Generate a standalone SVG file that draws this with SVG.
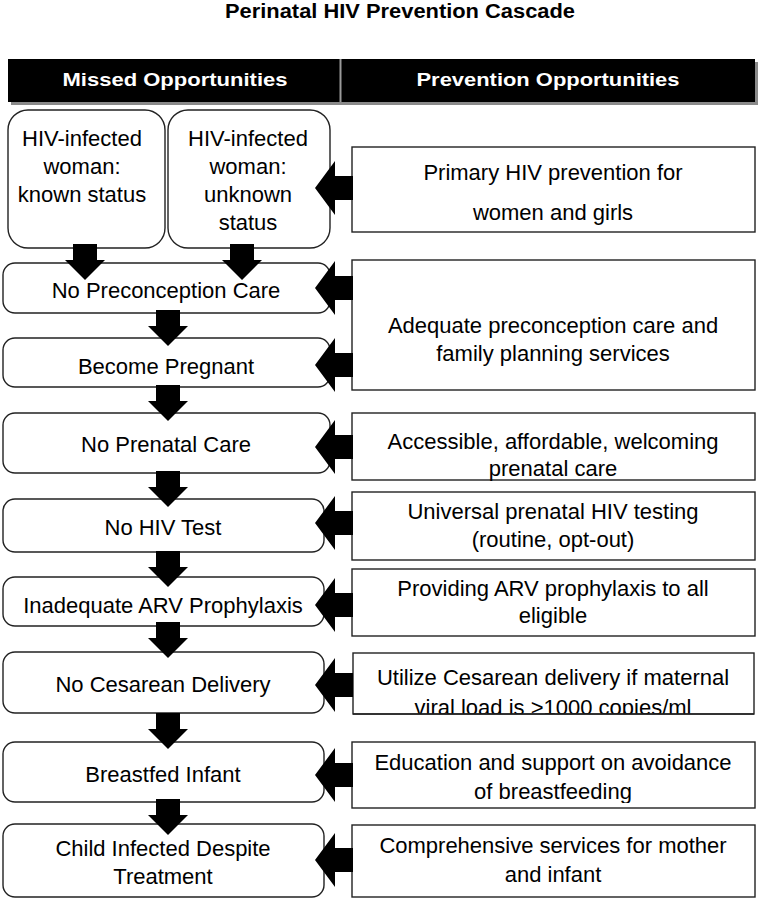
<svg xmlns="http://www.w3.org/2000/svg" xmlns:xlink="http://www.w3.org/1999/xlink" width="761" height="900" viewBox="0 0 761 900">
<style>
  .t{font-family:"Liberation Sans",Arial,sans-serif;font-size:22px;fill:#000;text-anchor:middle}
  .h{font-family:"Liberation Sans",Arial,sans-serif;font-weight:bold;font-size:19px;fill:#fff;text-anchor:middle}
  .ttl{font-family:"Liberation Sans",Arial,sans-serif;font-weight:bold;font-size:19.5px;fill:#000;text-anchor:middle}
  .box{fill:#fff;stroke:#222;stroke-width:1.4}
  .arr{fill:#000}
</style>
<defs>
  <polygon id="la" points="0,0 20,-27 20,-12 38,-12 38,12 20,12 20,27"/>
  <polygon id="da" points="-12,-36 12,-36 12,-20 20,-20 0,0 -20,-20 -12,-20"/>
  <clipPath id="c6"><rect x="352" y="653" width="403" height="61"/></clipPath>
  <clipPath id="c7"><rect x="352" y="742" width="403" height="61"/></clipPath>
</defs>
<rect width="761" height="900" fill="#fff"/>
<text class="ttl" x="400" y="18" textLength="350" lengthAdjust="spacingAndGlyphs">Perinatal HIV Prevention Cascade</text>

<g id="header">
  <rect x="11" y="62" width="747" height="43" fill="#8a8a8a"/>
  <rect x="8" y="59" width="747" height="43" fill="#000"/>
  <line x1="340.5" y1="59" x2="340.5" y2="102" stroke="#9a9a9a" stroke-width="2"/>
  <text class="h" x="175" y="86" textLength="225" lengthAdjust="spacingAndGlyphs">Missed Opportunities</text>
  <text class="h" x="548" y="86" textLength="263" lengthAdjust="spacingAndGlyphs">Prevention Opportunities</text>
</g>

<g id="known">
  <rect class="box" x="8" y="110" width="157" height="138" rx="20"/>
  <text class="t" x="82" y="146">HIV-infected</text>
  <text class="t" x="82" y="174">woman:</text>
  <text class="t" x="82" y="202">known status</text>
</g>
<g id="unknown">
  <rect class="box" x="168" y="110" width="162" height="138" rx="20"/>
  <text class="t" x="248" y="146">HIV-infected</text>
  <text class="t" x="248" y="174">woman:</text>
  <text class="t" x="248" y="202">unknown</text>
  <text class="t" x="248" y="230">status</text>
</g>

<g id="m1"><rect class="box" x="3" y="263" width="327" height="50" rx="12"/><text class="t" x="166" y="298">No Preconception Care</text></g>
<g id="m2"><rect class="box" x="3" y="338" width="327" height="49" rx="12"/><text class="t" x="166" y="374">Become Pregnant</text></g>
<g id="m3"><rect class="box" x="3" y="413" width="327" height="60" rx="12"/><text class="t" x="166" y="452">No Prenatal Care</text></g>
<g id="m4"><rect class="box" x="3" y="499" width="321" height="53" rx="12"/><text class="t" x="163" y="535">No HIV Test</text></g>
<g id="m5"><rect class="box" x="3" y="577" width="321" height="49" rx="12"/><text class="t" x="163" y="613">Inadequate ARV Prophylaxis</text></g>
<g id="m6"><rect class="box" x="3" y="652" width="321" height="61" rx="12"/><text class="t" x="163" y="692">No Cesarean Delivery</text></g>
<g id="m7"><rect class="box" x="3" y="742" width="321" height="60" rx="12"/><text class="t" x="163" y="782">Breastfed Infant</text></g>
<g id="m8"><rect class="box" x="3" y="824" width="321" height="73" rx="12"/><text class="t" x="163" y="856">Child Infected Despite</text><text class="t" x="163" y="884">Treatment</text></g>

<g id="p1"><rect class="box" x="352" y="147" width="403" height="85"/><text class="t" x="553" y="180">Primary HIV prevention for</text><text class="t" x="553" y="220">women and girls</text></g>
<g id="p2"><rect class="box" x="352" y="260" width="403" height="130"/><text class="t" x="553" y="333">Adequate preconception care and</text><text class="t" x="553" y="361">family planning services</text></g>
<g id="p3"><rect class="box" x="352" y="413" width="403" height="67"/><text class="t" x="553" y="449">Accessible, affordable, welcoming</text><text class="t" x="553" y="476">prenatal care</text></g>
<g id="p4"><rect class="box" x="352" y="492" width="403" height="68"/><text class="t" x="553" y="519">Universal prenatal HIV testing</text><text class="t" x="553" y="547">(routine, opt-out)</text></g>
<g id="p5"><rect class="box" x="352" y="569" width="403" height="67"/><text class="t" x="553" y="596">Providing ARV prophylaxis to all</text><text class="t" x="553" y="623">eligible</text></g>
<g id="p6"><rect class="box" x="353" y="653" width="401" height="61"/><text class="t" x="553" y="685">Utilize Cesarean delivery if maternal</text><text class="t" x="553" y="715" clip-path="url(#c6)">viral load is &gt;1000 copies/ml</text><line x1="353" y1="714" x2="754" y2="714" stroke="#222" stroke-width="1.4"/></g>
<g id="p7"><rect class="box" x="352" y="742" width="403" height="66"/><text class="t" x="553" y="799" clip-path="url(#c7)">of breastfeeding</text><text class="t" x="553" y="770">Education and support on avoidance</text></g>
<g id="p8"><rect class="box" x="352" y="825" width="403" height="72"/><text class="t" x="553" y="853">Comprehensive services for mother</text><text class="t" x="553" y="882">and infant</text></g>

<g id="connectors" class="arr">
  <use xlink:href="#da" x="85" y="280"/>
  <use xlink:href="#da" x="242" y="280"/>
  <use xlink:href="#da" x="168" y="346"/>
  <use xlink:href="#da" x="168" y="421"/>
  <use xlink:href="#da" x="168" y="507"/>
  <use xlink:href="#da" x="168" y="587"/>
  <use xlink:href="#da" x="168" y="658"/>
  <use xlink:href="#da" x="168" y="749"/>
  <use xlink:href="#da" x="168" y="835"/>
  <use xlink:href="#la" x="315" y="188"/>
  <use xlink:href="#la" x="315" y="288"/>
  <use xlink:href="#la" x="315" y="365"/>
  <use xlink:href="#la" x="315" y="447"/>
  <use xlink:href="#la" x="315" y="523"/>
  <use xlink:href="#la" x="315" y="605"/>
  <use xlink:href="#la" x="315" y="685"/>
  <use xlink:href="#la" x="315" y="775"/>
  <use xlink:href="#la" x="315" y="860"/>
</g>
</svg>
